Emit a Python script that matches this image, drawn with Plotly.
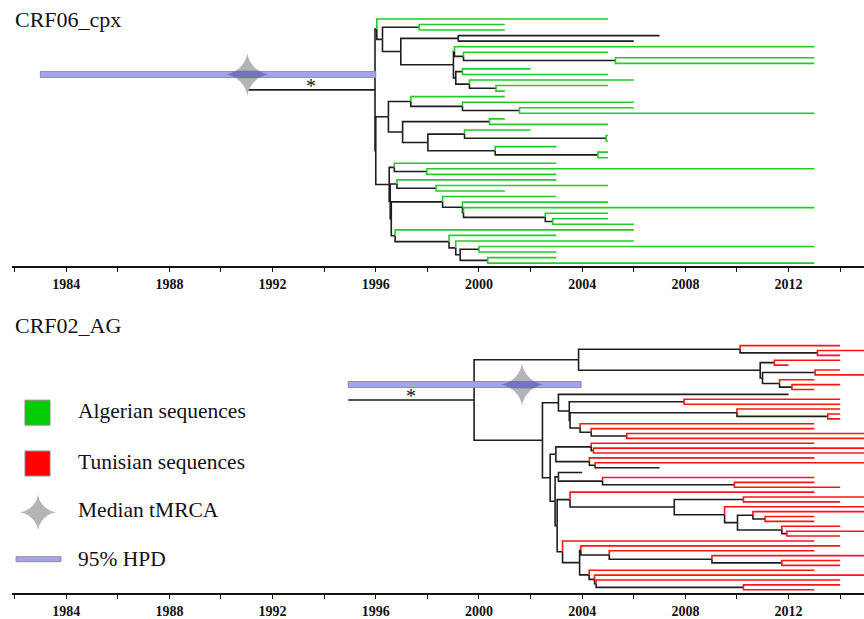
import numpy as np
import plotly.graph_objects as go

# ---------------------------------------------------------------- data
TICK_YEARS = [1982, 1984, 1986, 1988, 1990, 1992, 1994, 1996, 1998, 2000,
              2002, 2004, 2006, 2008, 2010, 2012, 2014]
TICK_LABELS = ["", "1984", "", "1988", "", "1992", "", "1996", "", "2000",
               "", "2004", "", "2008", "", "2012", ""]

PANEL_TITLES = ["CRF06_cpx", "CRF02_AG"]
LEGEND_LABELS = ["Algerian sequences", "Tunisian sequences", "Median tMRCA", "95% HPD"]

# CRF06_cpx tree: tip sampling years (top to bottom) and origin
TOP_TIP_DATES = [2005, 2001, 2001, 2007, 2006, 2013, 2005, 2013, 2013, 2002,
                 2005, 2006, 2005, 2001, 2001, 2006, 2006, 2013, 2001, 2005,
                 2002, 2005, 2005, 2003, 2005, 2005, 2003, 2013, 2003, 2003,
                 2005, 2001, 2003, 2005, 2013, 2005, 2005, 2006, 2006, 2003,
                 2006, 2013, 2003, 2003, 2013]
TOP_TIP_ORIGIN = ["DZ", "DZ", "DZ", "REF", "REF"] + ["DZ"] * 40
# internal nodes: (name, date, child 1, child 2); ints are tip indices
TOP_NODES = [
    ("R", 1995.97, "A", "C"),
    ("A", 1996.04, 0, "NB"),
    ("NB", 1996.26, "N23", "ND"),
    ("N23", 1997.68, 1, 2),
    ("ND", 1996.97, "N45", "NE"),
    ("N45", 1999.20, 3, 4),
    ("NE", 1999.01, "NF", "NH"),
    ("NF", 1999.05, 5, "NG"),
    ("NG", 1999.40, 6, "N89"),
    ("N89", 2005.29, 7, 8),
    ("NH", 1999.10, "N1011", "NI"),
    ("N1011", 1999.36, 9, 10),
    ("NI", 1999.63, 11, "N1314"),
    ("N1314", 2000.66, 12, 13),
    ("C", 1996.00, "NMID", "BN"),
    ("NMID", 1996.49, "NJ", "NK"),
    ("NJ", 1997.36, 14, "NJ2"),
    ("NJ2", 1999.36, 15, "N1718"),
    ("N1718", 2001.57, 16, 17),
    ("NK", 1997.04, "N1920", "NM"),
    ("N1920", 2000.41, 18, 19),
    ("NM", 1998.02, "NL", "NN"),
    ("NL", 1999.44, 20, "N2223"),
    ("N2223", 2004.93, 21, 22),
    ("NN", 2000.63, 23, "N2526"),
    ("N2526", 2004.61, 24, 25),
    ("BN", 1996.52, "NP", "B2"),
    ("NP", 1996.72, 26, "N2829"),
    ("N2829", 1997.98, 27, 28),
    ("B2", 1996.56, "NQ", "B3"),
    ("NQ", 1996.82, 29, "N3132"),
    ("N3132", 1998.34, 30, 31),
    ("B3", 1996.60, "NU", "NY"),
    ("NU", 1998.59, 32, "NS"),
    ("NS", 1999.36, 33, "NT"),
    ("NT", 1999.40, 34, "N3638"),
    ("N3638", 2002.57, 35, "N3738"),
    ("N3738", 2002.86, 36, 37),
    ("NY", 1996.75, 38, "NX"),
    ("NX", 1998.84, 39, "NW"),
    ("NW", 1999.10, 40, "NV"),
    ("NV", 1999.27, "N4243", "N4445"),
    ("N4243", 2000.00, 41, 42),
    ("N4445", 2000.34, 43, 44),
]
TOP_STEM_START = 1991.02
TOP_TMRCA = 1991.02
TOP_HPD = [1983.0, 1996.0]

# CRF02_AG tree
BOT_TIP_DATES = [2014, 2015, 2014, 2014, 2012, 2014, 2015, 2013, 2014, 2013,
                 2012, 2014, 2014, 2014, 2014, 2014, 2013, 2013, 2015, 2015,
                 2013, 2015, 2015, 2013, 2015, 2007, 2004, 2013, 2013, 2014,
                 2013, 2015, 2014, 2015, 2015, 2013, 2013, 2014, 2015, 2014,
                 2013, 2014, 2013, 2015, 2014, 2014, 2013, 2015, 2014, 2014,
                 2013]
BOT_TIP_ORIGIN = (["TN"] * 10 + ["REF"] + ["TN"] * 14 + ["REF", "REF"] + ["TN"] * 24)
BOT_NODES = [
    ("R2", 1999.81, "Q1", "S"),
    ("Q1", 2003.86, "QA", "QB"),
    ("QA", 2010.12, 0, "QA2"),
    ("QA2", 2013.12, 1, 2),
    ("QB", 2010.90, "QB1", "QB2"),
    ("QB1", 2011.45, 3, 4),
    ("QB2", 2010.99, "QB2A", "QB2B"),
    ("QB2A", 2013.03, 5, 6),
    ("QB2B", 2011.65, 7, "QB2C"),
    ("QB2C", 2012.13, 8, 9),
    ("S", 2002.46, "S1", "S2"),
    ("S1", 2003.08, 10, "S1B"),
    ("S1B", 2003.50, "N2008", "S1C"),
    ("N2008", 2007.95, 11, 12),
    ("S1C", 2003.53, "U1", "X1"),
    ("U1", 2010.00, 13, "U2"),
    ("U2", 2013.52, 14, 15),
    ("X1", 2003.92, 16, "X2"),
    ("X2", 2004.35, 17, "X3"),
    ("X3", 2005.73, 18, 19),
    ("S2", 2002.76, "GY", "S3"),
    ("GY", 2002.98, "Y1", "Y2"),
    ("Y1", 2004.35, 20, "Y1B"),
    ("Y1B", 2004.44, 21, 22),
    ("Y2", 2004.28, 23, "Y2B"),
    ("Y2B", 2004.50, 24, 25),
    ("S3", 2002.95, "G85", "S4"),
    ("G85", 2003.08, 26, "N217"),
    ("N217", 2004.79, 27, "N613"),
    ("N613", 2009.90, 28, 29),
    ("S4", 2003.03, "G120", "G97"),
    ("G120", 2003.53, 30, "N432"),
    ("N432", 2007.57, "N640", "N583"),
    ("N640", 2010.25, 31, 32),
    ("N583", 2009.52, 33, "N622"),
    ("N622", 2010.02, "N668", "N755"),
    ("N668", 2010.62, 34, "N705"),
    ("N705", 2011.09, 35, 36),
    ("N755", 2011.74, 37, "N770"),
    ("N770", 2011.93, 38, 39),
    ("G97", 2003.24, 40, "N150B"),
    ("N150B", 2003.90, "N150A", "N177"),
    ("N150A", 2003.95, 41, "N237"),
    ("N237", 2005.05, 42, "N545"),
    ("N545", 2009.03, 43, "N755B"),
    ("N755B", 2011.74, 44, 45),
    ("N177", 2004.27, 46, "N193"),
    ("N193", 2004.48, 47, "N198"),
    ("N198", 2004.54, 48, "N640B"),
    ("N640B", 2010.25, 49, 50),
]
BOT_STEM_START = 1994.93
BOT_TMRCA = 2001.67
BOT_HPD = [1994.93, 2003.96]

# ---------------------------------------------------------------- style
W, H = 864, 619
ML = 12
PX_PER_YEAR = 25.8
X0_YEAR = 1981.9
X1_YEAR = X0_YEAR + (W - ML) / PX_PER_YEAR
SERIF = "Liberation Serif, Times New Roman, serif"
COL = {"DZ": "#22cc22", "TN": "#ff1414", "REF": "#1e1e1e"}
INTERNAL = "#1e1e1e"
STAR_GREY = "#b4b4b4"
HPD_FILL = "#a4a4ee"
HPD_EDGE = "#8e8e9e"
OVERLAP = "#6e6ebe"
LW = 1.6
STAR_P = 3.3

# panel pixel geometry: (axis top px, axis bottom px, first tip px, last tip px)
PANELS = [(0, 267, 19.0, 264.0), (290, 595, 346.7, 591.7)]


def paper_x(px):
    return (px - ML) / (W - ML)


def paper_y(py):
    return 1 - py / H


def layout_tree(n_tips, nodes):
    nmap = {n[0]: n for n in nodes}
    parent = {}
    for name, _, a, b in nodes:
        parent[a] = name
        parent[b] = name
    root = [n[0] for n in nodes if n[0] not in parent][0]
    ypos = {}

    def gy(k):
        if isinstance(k, int):
            return float(k)
        if k not in ypos:
            _, _, a, b = nmap[k]
            ypos[k] = (gy(a) + gy(b)) / 2.0
        return ypos[k]

    gy(root)
    return nmap, parent, root, gy


def star_xy(cx, cy, rx, ry, p=STAR_P, n=161, band=None):
    t = np.linspace(0, 2 * np.pi, n)
    c, s = np.cos(t), np.sin(t)
    xs = cx + rx * np.sign(c) * np.abs(c) ** p
    ys = cy + ry * np.sign(s) * np.abs(s) ** p
    if band is not None:
        ys = np.clip(ys, band[0], band[1])
    return xs, ys


def path_str(xs, ys):
    pts = ["%.5f,%.5f" % (x, y) for x, y in zip(xs, ys)]
    return "M " + " L ".join(pts) + " Z"


fig = go.Figure()
shapes = []
annotations = []

trees = [
    (TOP_TIP_DATES, TOP_TIP_ORIGIN, TOP_NODES, TOP_STEM_START, TOP_TMRCA, TOP_HPD),
    (BOT_TIP_DATES, BOT_TIP_ORIGIN, BOT_NODES, BOT_STEM_START, BOT_TMRCA, BOT_HPD),
]

for k, (tdates, torig, nodes, stem0, tmrca, hpd) in enumerate(trees):
    xa = "x" if k == 0 else "x2"
    ya = "y" if k == 0 else "y2"
    top_px, bot_px, tip0_px, tipn_px = PANELS[k]
    n = len(tdates)
    s = (tipn_px - tip0_px) / (n - 1)  # px per tip
    nmap, parent, root, gy = layout_tree(n, nodes)

    def date_of(key):
        return tdates[key] if isinstance(key, int) else nmap[key][1]

    segs = {"INT": ([], [])}
    for c in COL:
        segs[c] = ([], [])
    keys = list(range(n)) + [nd[0] for nd in nodes if nd[0] != root]
    for key in keys:
        p = parent[key]
        px_, py_ = date_of(p), gy(p)
        cx_, cy_ = date_of(key), gy(key)
        grp = torig[key] if isinstance(key, int) else "INT"
        xs, ys = segs[grp]
        xs += [px_, px_, cx_, None]
        ys += [py_, cy_, cy_, None]
    # stem
    ry = gy(root)
    segs["INT"][0].extend([stem0, date_of(root), None])
    segs["INT"][1].extend([ry, ry, None])

    for grp in ["INT", "REF", "DZ", "TN"]:
        xs, ys = segs[grp]
        if not xs:
            continue
        fig.add_trace(go.Scatter(
            x=xs, y=ys, mode="lines", xaxis=xa, yaxis=ya,
            line=dict(color=INTERNAL if grp == "INT" else COL[grp], width=LW),
            hoverinfo="skip", showlegend=False))

    # HPD bar, star, overlap
    hy = ry - 15.5 / s
    half = 3.0 / s
    sx, sy = star_xy(tmrca, hy, 22.5 / PX_PER_YEAR, 22.5 / s)
    shapes.append(dict(type="path", path=path_str(sx, sy), xref=xa, yref=ya,
                       fillcolor=STAR_GREY, line=dict(width=0), layer="above"))
    shapes.append(dict(type="rect", x0=hpd[0], x1=hpd[1], y0=hy - half, y1=hy + half,
                       xref=xa, yref=ya, fillcolor=HPD_FILL,
                       line=dict(color=HPD_EDGE, width=1), layer="above"))
    ox, oy = star_xy(tmrca, hy, 22.5 / PX_PER_YEAR, 22.5 / s,
                     band=(hy - half - 0.6 / s, hy + half + 0.6 / s))
    shapes.append(dict(type="path", path=path_str(ox, oy), xref=xa, yref=ya,
                       fillcolor=OVERLAP, line=dict(width=0), layer="above", opacity=0.9))
    # asterisk on the stem
    annotations.append(dict(x=(stem0 + date_of(root)) / 2, y=ry - 3.6 / s, xref=xa, yref=ya,
                            text="*", showarrow=False, xanchor="center", yanchor="middle",
                            font=dict(family=SERIF, size=20, color="#111")))

    # title
    annotations.append(dict(x=paper_x(13), y=paper_y(PANELS[k][0] + (20 if k == 0 else 37)),
                            xref="paper", yref="paper", text=PANEL_TITLES[k], showarrow=False,
                            xanchor="left", yanchor="middle",
                            font=dict(family=SERIF, size=22, color="#111")))

    ax = dict(domain=[0, 1], range=[X0_YEAR, X1_YEAR], tickmode="array",
              tickvals=TICK_YEARS, ticktext=TICK_LABELS, ticks="outside", ticklen=4,
              tickwidth=1, tickcolor="#111", showline=True, linewidth=2, linecolor="#111",
              showgrid=False, zeroline=False, anchor=ya, fixedrange=True,
              tickfont=dict(family=SERIF, size=14, color="#111", weight="bold"))
    yx = dict(domain=[paper_y(bot_px), paper_y(top_px)],
              range=[n - 1 + (bot_px - tipn_px) / s, -(tip0_px - top_px) / s],
              visible=False, showgrid=False, zeroline=False, fixedrange=True)
    if k == 0:
        fig.update_layout(xaxis=ax, yaxis=yx)
    else:
        fig.update_layout(xaxis2=ax, yaxis2=yx)

# ---------------------------------------------------------------- legend
leg_rows_px = [412.0, 463.0, 512.0, 561.0]
for i, c in enumerate(["#00cc00", "#ff0000"]):
    cy = leg_rows_px[i] + 2
    shapes.append(dict(type="rect", xref="paper", yref="paper",
                       x0=paper_x(25), x1=paper_x(50), y0=paper_y(cy - 12.5), y1=paper_y(cy + 12.5),
                       fillcolor=c, line=dict(color="#888", width=1)))
lx, ly = star_xy(paper_x(38), paper_y(leg_rows_px[2] + 2), 19 / (W - ML), 19 / H)
shapes.append(dict(type="path", xref="paper", yref="paper", path=path_str(lx, ly),
                   fillcolor=STAR_GREY, line=dict(width=0)))
shapes.append(dict(type="rect", xref="paper", yref="paper",
                   x0=paper_x(16), x1=paper_x(61), y0=paper_y(leg_rows_px[3] + 2.5),
                   y1=paper_y(leg_rows_px[3] - 2.5), fillcolor=HPD_FILL,
                   line=dict(color=HPD_EDGE, width=1)))
for i, lab in enumerate(LEGEND_LABELS):
    annotations.append(dict(x=paper_x(76), y=paper_y(leg_rows_px[i]), xref="paper", yref="paper",
                            text=lab, showarrow=False, xanchor="left", yanchor="middle",
                            font=dict(family=SERIF, size=21.5, color="#111")))

fig.update_layout(
    width=W, height=H, margin=dict(l=ML, r=0, t=0, b=0),
    paper_bgcolor="white", plot_bgcolor="white", showlegend=False,
    shapes=shapes, annotations=annotations, hovermode=False,
)

fig.write_html("out.html", config={"displayModeBar": False, "staticPlot": True})
# remove the default page margin so the figure sits at the window's top-left corner
with open("out.html", "r", encoding="utf-8") as fh:
    html = fh.read()
html = html.replace("<body>", '<body style="margin:0;padding:0;overflow:hidden">', 1)
with open("out.html", "w", encoding="utf-8") as fh:
    fh.write(html)
